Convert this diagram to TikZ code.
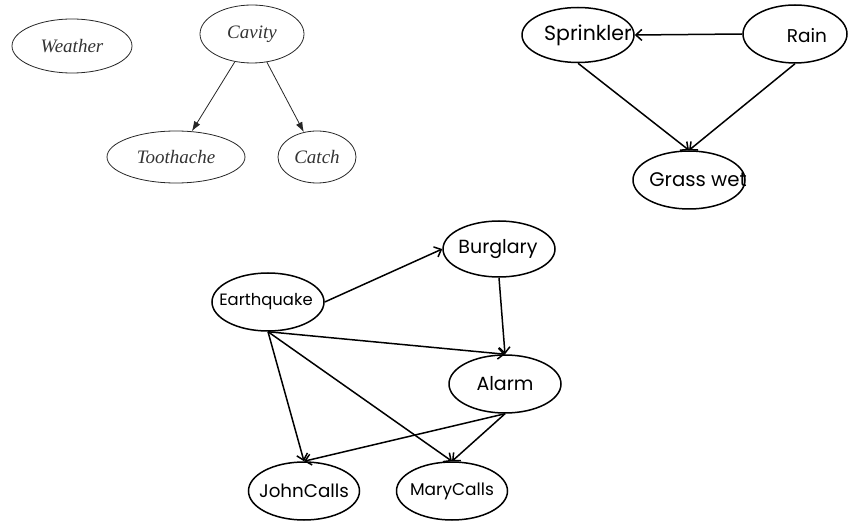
\documentclass[tikz,border=0pt]{standalone}
\usepackage{fontspec}
\setmainfont{Liberation Serif}
\newfontfamily\geofont{Poppins}
\usetikzlibrary{arrows.meta,shapes.geometric}

\tikzset{
  serifnode/.style={ellipse, draw=black!85, line width=0.8pt, inner sep=0pt,
    font=\fontsize{19}{19}\selectfont\itshape, text=black!80},
  geonode/.style={ellipse, draw=black, line width=1.5pt, inner sep=0pt},
  geotext/.style={inner sep=0pt, font=\geofont\fontsize{#1}{#1}\selectfont},
  thinedge/.style={draw=black!85, line width=0.8pt, -{Latex[length=10pt,width=7pt]}},
  thickedge/.style={draw=black, line width=1.5pt, -{Straight Barb[length=6pt,width=11pt,line width=1.5pt]}},
}

\begin{document}
\begin{tikzpicture}[x=1pt,y=-1pt]
\useasboundingbox (0,0) rectangle (849,521);

% left network: weather, cavity and its effects
\node[serifnode, minimum width=120pt, minimum height=54pt] (weather) at (72,46) {Weather};
\node[serifnode, minimum width=104pt, minimum height=58pt] (cavity) at (252,34) {Cavity};
\node[serifnode, minimum width=138pt, minimum height=52pt] (tooth) at (176,157) {Toothache};
\node[serifnode, minimum width=78pt, minimum height=52pt] (catch) at (317,157) {Catch};
\draw[thinedge] (cavity) -- (tooth);
\draw[thinedge] (cavity) -- (catch);

% right network: sprinkler, rain, wet grass
\node[geonode, minimum width=112pt, minimum height=55pt] (sprinkler) at (578,35) {};
\node[geotext=20.5] (sprinklertxt) at (588,35) {Sprinkler};
\node[geonode, minimum width=104pt, minimum height=58pt] (rain) at (795,34) {};
\node[geotext=18.5] (raintxt) at (807,36) {Rain};
\node[geonode, minimum width=112pt, minimum height=58pt] (grass) at (689,180) {};
\node[geotext=19.7] (grasstxt) at (698,180) {Grass wet};
\draw[thickedge] (rain.west) -- (sprinkler.east);
\draw[thickedge] (sprinkler.south) -- (grass.north);
\draw[thickedge] (rain.south) -- (grass.north);

% bottom network: burglary alarm
\node[geonode, minimum width=112pt, minimum height=56pt] (burglary) at (499,249) {};
\node[geotext=19] at (498,249) {Burglary};
\node[geonode, minimum width=112pt, minimum height=58pt] (quake) at (268,302) {};
\node[geotext=16.4] at (266,302) {Earthquake};
\node[geonode, minimum width=112pt, minimum height=58pt] (alarm) at (505,384) {};
\node[geotext=19] at (505,384) {Alarm};
\node[geonode, minimum width=111pt, minimum height=58pt] (john) at (304,491) {};
\node[geotext=18.3] at (304,491) {JohnCalls};
\node[geonode, minimum width=111pt, minimum height=58pt] (mary) at (452,491) {};
\node[geotext=17] at (452,491) {MaryCalls};

\draw[thickedge] (quake.east) -- (burglary.west);
\draw[thickedge] (burglary.south) -- (alarm.north);
\draw[thickedge] (quake.south) -- (alarm.north);
\draw[thickedge] (quake.south) -- (john.north);
\draw[thickedge] (quake.south) -- (mary.north);
\draw[thickedge] (alarm.south) -- (john.north);
\draw[thickedge] (alarm.south) -- (mary.north);
\end{tikzpicture}
\end{document}
